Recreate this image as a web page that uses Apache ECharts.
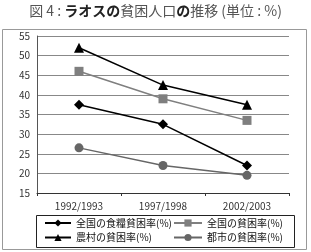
<!DOCTYPE html>
<html><head><meta charset="utf-8">
<script src="https://cdn.jsdelivr.net/npm/echarts@6/dist/echarts.min.js"></script>
<style>html,body{margin:0;padding:0;background:#fff}#c{width:311px;height:252px}</style>
</head><body><div id="c"></div>
<script>
var categories = ['1992/1993', '1997/1998', '2002/2003'];
var foodPoverty = [37.5, 32.5, 22];
var nationalPoverty = [46, 39, 33.5];
var ruralPoverty = [52, 42.5, 37.5];
var urbanPoverty = [26.5, 22, 19.5];
var seriesNames = ['全国の食糧貧困率(%)', '全国の貧困率(%)', '農村の貧困率(%)', '都市の貧困率(%)'];
var yTicks = {min: 15, max: 55, interval: 5};

var font = '"Noto Sans CJK JP", "Noto Sans", sans-serif';
var chart = echarts.init(document.getElementById('c'), null, {renderer: 'canvas'});
function mk(name, data, color, symbol, size) {
  return {name: name, type: 'line', data: data, symbol: symbol, symbolSize: size,
    lineStyle: {color: color, width: 1.5}, itemStyle: {color: color}, animation: false};
}
chart.setOption({
  animation: false,
  textStyle: {fontFamily: font},
  title: {
    text: '{r|図 4 : }{b|ラオスの}{r|貧困人口}{b|の}{r|推移 (単位 : %)}',
    left: 'center', top: -1,
    textStyle: {fontWeight: 'normal', rich: {
      r: {fontSize: 14, color: '#555', fontWeight: 'normal', fontFamily: font},
      b: {fontSize: 14, color: '#222', fontWeight: 'bold', fontFamily: font}
    }}
  },
  graphic: [
    {type: 'rect', left: 2, top: 29, z: 10, silent: true,
      shape: {width: 304, height: 220}, style: {fill: 'transparent', stroke: '#999', lineWidth: 1}},
    {type: 'rect', left: 36, top: 215, z: 10, silent: true,
      shape: {width: 258, height: 32}, style: {fill: 'transparent', stroke: '#222', lineWidth: 1}}
  ],
  legend: [
    {data: [seriesNames[0], seriesNames[2]], orient: 'vertical', left: 39, top: 211, height: 40, itemWidth: 26, itemHeight: 9, itemGap: 0.5,
      textStyle: {fontSize: 10, color: '#111', fontFamily: font, lineHeight: 14}},
    {data: [seriesNames[1], seriesNames[3]], orient: 'vertical', left: 168, top: 211, height: 40, itemWidth: 28, itemHeight: 9, itemGap: 0.5,
      textStyle: {fontSize: 10, color: '#111', fontFamily: font, lineHeight: 14}}
  ],
  grid: {left: 37, right: 22, top: 36, bottom: 59},
  xAxis: {
    type: 'category', data: categories, boundaryGap: true,
    axisLine: {lineStyle: {color: '#333'}},
    axisTick: {show: true, length: 3, lineStyle: {color: '#333'}},
    axisLabel: {fontSize: 10, color: '#333', margin: 8, fontFamily: font}
  },
  yAxis: {
    type: 'value', min: yTicks.min, max: yTicks.max, interval: yTicks.interval,
    axisLine: {show: true, lineStyle: {color: '#555'}},
    axisTick: {show: false},
    axisLabel: {fontSize: 10, color: '#333', margin: 7, fontFamily: font},
    splitLine: {lineStyle: {color: '#888', width: 1}}
  },
  series: [
    mk(seriesNames[0], foodPoverty, '#000', 'diamond', 10),
    mk(seriesNames[1], nationalPoverty, '#7f7f7f', 'rect', 9),
    mk(seriesNames[2], ruralPoverty, '#000', 'triangle', 10),
    mk(seriesNames[3], urbanPoverty, '#666', 'circle', 9)
  ]
});
</script></body></html>
